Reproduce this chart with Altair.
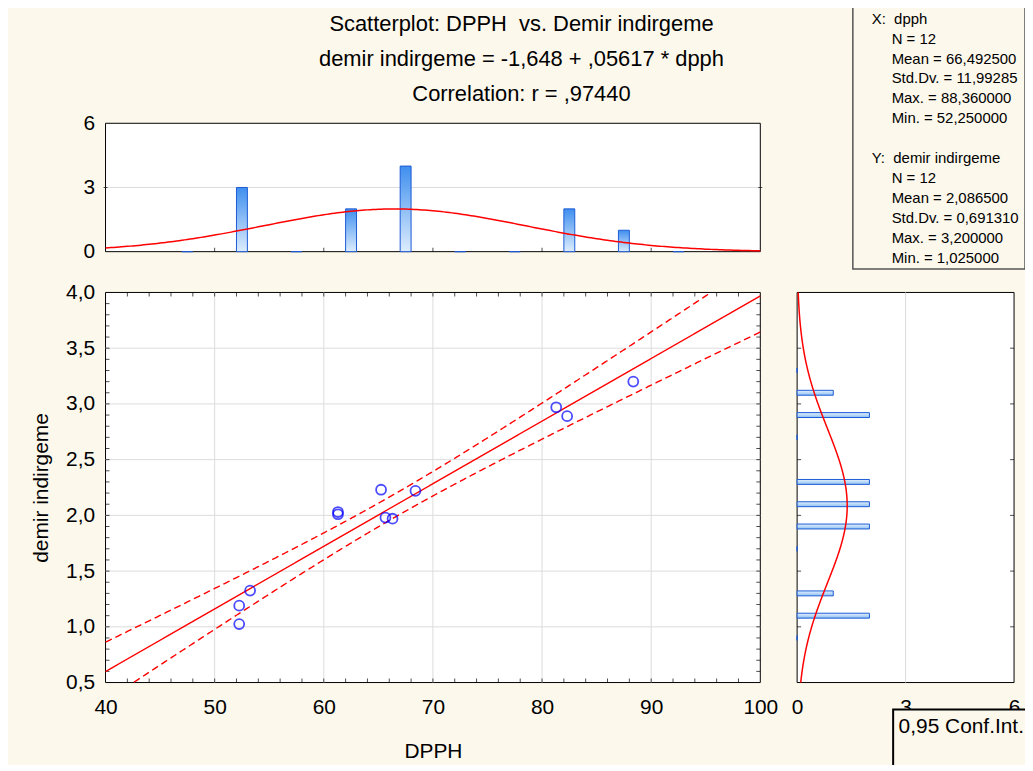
import numpy as np
import pandas as pd
import altair as alt

# ---------------- data ----------------
dpph = [52.25, 52.25, 53.25, 61.3, 61.3, 65.25, 65.65, 66.3, 68.4, 81.3, 82.3, 88.36]
demir = [1.025, 1.19, 1.325, 2.03, 2.01, 2.23, 1.98, 1.97, 2.22, 2.97, 2.89, 3.2]

x_bin_centers = [47.5, 52.5, 57.5, 62.5, 67.5, 72.5, 77.5, 82.5, 87.5, 92.5]
x_bin_counts = [0, 3, 0, 2, 4, 0, 0, 2, 1, 0]
y_bin_centers = [0.9, 1.1, 1.3, 1.7, 1.9, 2.1, 2.3, 2.7, 2.9, 3.1, 3.3]
y_bin_counts = [0, 2, 1, 0, 2, 2, 2, 0, 2, 1, 0]

intercept = -1.648
slope = 0.05617
r_corr = 0.97440
n_obs = 12
x_mean, x_sd = 66.4925, 11.99285
y_mean, y_sd = 2.0865, 0.691310
t_crit = 2.228
x_bin_width, y_bin_width = 5.0, 0.2

x_ticks = [40, 50, 60, 70, 80, 90, 100]
y_ticks = [0.5, 1.0, 1.5, 2.0, 2.5, 3.0, 3.5, 4.0]
count_ticks = [0, 3, 6]

NB = "\u00a0"
title_lines = [
    "Scatterplot: DPPH" + NB + " vs. Demir indirgeme",
    "demir indirgeme = -1,648 + ,05617 * dpph",
    "Correlation: r = ,97440",
]
stats_lines = [
    "X:" + NB + " dpph", "N = 12", "Mean = 66,492500", "Std.Dv. = 11,99285",
    "Max. = 88,360000", "Min. = 52,250000", "",
    "Y:" + NB + " demir indirgeme", "N = 12", "Mean = 2,086500", "Std.Dv. = 0,691310",
    "Max. = 3,200000", "Min. = 1,025000",
]
stats_header = [True, False, False, False, False, False, False,
                True, False, False, False, False, False]
conf_label = "0,95 Conf.Int."

# ---------------- styling / layout ----------------
FONT = "Liberation Sans"
BG = "#FDF8EC"
GRID = "#DCDCDC"
BLUE_EDGE = "#1C5BD6"


def sc(domain, rng):
    return alt.Scale(domain=domain, range=rng, nice=False, zero=False)


def XM():
    return sc([40, 100], [0, 658])


def YM():
    return sc([0.5, 4.0], [562, 170])


def YT():
    return sc([0, 6], [129, 0])


def XR():
    return sc([0, 6], [695, 913])


lab = dict(labelFont=FONT, labelFontSize=21, labelColor="black", ticks=False,
           tickSize=0, domain=False, grid=False, labelFlush=False,
           labelOverlap=False)
ax_main_x = alt.Axis(orient="bottom", values=x_ticks, format="d", labelPadding=14,
                     title="DPPH", titleFont=FONT, titleFontSize=21,
                     titleFontWeight="normal", titleColor="black",
                     titlePadding=23, **lab)
ax_main_y = alt.Axis(orient="left", values=y_ticks,
                     labelExpr="replace(format(datum.value, '.1f'), '.', ',')",
                     labelPadding=11, title="demir indirgeme", titleFont=FONT,
                     titleFontSize=21, titleFontWeight="normal",
                     titleColor="black", titlePadding=14, **lab)
ax_top_y = alt.Axis(orient="left", values=count_ticks, format="d",
                    labelPadding=11, title=None, **lab)
ax_right_x = alt.Axis(orient="bottom", values=count_ticks, format="d",
                      labelPadding=14, title=None, **lab)


def frame(x0, x1, y0, y1, xs, ys, xaxis=None, yaxis=None):
    df = pd.DataFrame({"x0": [x0], "x1": [x1], "y0": [y0], "y1": [y1]})
    return alt.Chart(df).mark_rect(fill="white", stroke="black", strokeWidth=1).encode(
        x=alt.X("x0:Q", scale=xs, axis=xaxis), x2="x1:Q",
        y=alt.Y("y0:Q", scale=ys, axis=yaxis), y2="y1:Q")


def vrules(vals, y0, y1, xs, ys):
    df = pd.DataFrame({"x": vals, "y0": y0, "y1": y1})
    return alt.Chart(df).mark_rule(color=GRID, strokeWidth=1).encode(
        x=alt.X("x:Q", scale=xs, axis=None),
        y=alt.Y("y0:Q", scale=ys, axis=None), y2="y1:Q")


def hrules(vals, x0, x1, xs, ys):
    df = pd.DataFrame({"y": vals, "x0": x0, "x1": x1})
    return alt.Chart(df).mark_rule(color=GRID, strokeWidth=1).encode(
        y=alt.Y("y:Q", scale=ys, axis=None),
        x=alt.X("x0:Q", scale=xs, axis=None), x2="x1:Q")


def ticks(xv, yv, xs, ys, orient, xoff=0, yoff=0, size=4):
    df = pd.DataFrame({"x": xv, "y": yv})
    return alt.Chart(df).mark_tick(orient=orient, size=size, thickness=1,
                                   color="black", xOffset=xoff, yOffset=yoff).encode(
        x=alt.X("x:Q", scale=xs, axis=None),
        y=alt.Y("y:Q", scale=ys, axis=None))


layers = []

# frames (white plot areas) carrying the labelled axes
layers.append(frame(40, 100, 0.5, 4.0, XM(), YM(), ax_main_x, ax_main_y))
layers.append(frame(40, 100, 0, 6, XM(), YT(), None, ax_top_y))
layers.append(frame(0, 6, 0.5, 4.0, XR(), YM(), ax_right_x, None))

# grid lines
layers.append(vrules([50, 60, 70, 80, 90], 0.5, 4.0, XM(), YM()))
layers.append(hrules([1.0, 1.5, 2.0, 2.5, 3.0, 3.5], 40, 100, XM(), YM()))
layers.append(hrules([3], 40, 100, XM(), YT()))
layers.append(vrules([3], 0.5, 4.0, XR(), YM()))

# small inward ticks
minor_x = list(range(42, 100, 2))
minor_y = [round(v, 1) for v in np.arange(0.6, 4.0, 0.1)]
layers.append(ticks(minor_x, [0.5] * len(minor_x), XM(), YM(), "vertical", yoff=-2))
layers.append(ticks(minor_x, [4.0] * len(minor_x), XM(), YM(), "vertical", yoff=2))
layers.append(ticks([40] * len(minor_y), minor_y, XM(), YM(), "horizontal", xoff=2))
layers.append(ticks([100] * len(minor_y), minor_y, XM(), YM(), "horizontal", xoff=-2))
layers.append(ticks([50, 60, 70, 80, 90], [0] * 5, XM(), YT(), "vertical", yoff=-2))
layers.append(ticks([40, 100], [3, 3], XM(), YT(), "horizontal", xoff=0))
maj_y = [1.0, 1.5, 2.0, 2.5, 3.0, 3.5]
layers.append(ticks([0] * 6, maj_y, XR(), YM(), "horizontal", xoff=2))
layers.append(ticks([6] * 6, maj_y, XR(), YM(), "horizontal", xoff=-2))

# top histogram
grad_top = alt.LinearGradient(
    gradient="linear",
    stops=[alt.GradientStop(color="#DDEDFD", offset=0),
           alt.GradientStop(color="#3F8FEF", offset=1)],
    x1=0, x2=0, y1=1, y2=0)
top_df = pd.DataFrame({"c": x_bin_centers, "n": x_bin_counts})
top_df["x0"] = top_df["c"] - 0.5
top_df["x1"] = top_df["c"] + 0.5
top_df["y0"] = 0
layers.append(alt.Chart(top_df).mark_rect(fill=grad_top, stroke=BLUE_EDGE, strokeWidth=1).encode(
    x=alt.X("x0:Q", scale=XM(), axis=None), x2="x1:Q",
    y=alt.Y("y0:Q", scale=YT(), axis=None), y2="n:Q"))

# right histogram
grad_right = alt.LinearGradient(
    gradient="linear",
    stops=[alt.GradientStop(color="#E4F0FD", offset=0),
           alt.GradientStop(color="#8DC0F2", offset=1)],
    x1=0, x2=0, y1=0, y2=1)
right_df = pd.DataFrame({"c": y_bin_centers, "n": y_bin_counts})
right_df["y0"] = right_df["c"] - 0.022
right_df["y1"] = right_df["c"] + 0.022
right_df["x0"] = 0
layers.append(alt.Chart(right_df).mark_rect(fill=grad_right, stroke=BLUE_EDGE, strokeWidth=1).encode(
    x=alt.X("x0:Q", scale=XR(), axis=None), x2="n:Q",
    y=alt.Y("y0:Q", scale=YM(), axis=None), y2="y1:Q"))

# normal curves
def npdf(v, m, s):
    return np.exp(-0.5 * ((v - m) / s) ** 2) / (s * np.sqrt(2 * np.pi))

gx = np.linspace(40, 100, 241)
ncx = pd.DataFrame({"x": gx, "y": n_obs * x_bin_width * npdf(gx, x_mean, x_sd)})
layers.append(alt.Chart(ncx).mark_line(color="red", strokeWidth=1.5).encode(
    x=alt.X("x:Q", scale=XM(), axis=None), y=alt.Y("y:Q", scale=YT(), axis=None)))

gy = np.linspace(0.5, 4.0, 281)
ncy = pd.DataFrame({"y": gy, "x": n_obs * y_bin_width * npdf(gy, y_mean, y_sd)})
layers.append(alt.Chart(ncy).mark_line(color="red", strokeWidth=1.5).encode(
    x=alt.X("x:Q", scale=XR(), axis=None), y=alt.Y("y:Q", scale=YM(), axis=None),
    order="y:Q"))

# regression line with 95% confidence band
s_res = y_sd * np.sqrt(1 - r_corr ** 2) * np.sqrt((n_obs - 1) / (n_obs - 2))
sxx = (n_obs - 1) * x_sd ** 2
rx = np.linspace(40, 100, 601)
fit = intercept + slope * rx
half = t_crit * s_res * np.sqrt(1 / n_obs + (rx - x_mean) ** 2 / sxx)
fit_df = pd.DataFrame({"x": rx, "y": fit})
fit_df = fit_df[(fit_df.y >= 0.5) & (fit_df.y <= 4.0)]
ci_df = pd.concat([
    pd.DataFrame({"x": rx, "y": fit + half, "s": "upper"}),
    pd.DataFrame({"x": rx, "y": fit - half, "s": "lower"}),
])
ci_df = ci_df[(ci_df.y >= 0.5) & (ci_df.y <= 4.0)]
layers.append(alt.Chart(ci_df).mark_line(color="red", strokeWidth=1.4, strokeDash=[7, 4]).encode(
    x=alt.X("x:Q", scale=XM(), axis=None), y=alt.Y("y:Q", scale=YM(), axis=None),
    detail="s:N"))
layers.append(alt.Chart(fit_df).mark_line(color="red", strokeWidth=1.4).encode(
    x=alt.X("x:Q", scale=XM(), axis=None), y=alt.Y("y:Q", scale=YM(), axis=None)))

# scatter points
pts = pd.DataFrame({"dpph": dpph, "demir": demir})
layers.append(alt.Chart(pts).mark_point(shape="circle", filled=False, color="#0000FF",
                                        size=100, strokeWidth=1.8).encode(
    x=alt.X("dpph:Q", scale=XM(), axis=None), y=alt.Y("demir:Q", scale=YM(), axis=None)))

# title lines
tdf = pd.DataFrame({"t": title_lines, "row": [0, 1, 2]})
layers.append(alt.Chart(tdf).mark_text(font=FONT, fontSize=22, color="black",
                                       align="center", baseline="middle").encode(
    x=alt.value(418), y=alt.Y("row:Q", scale=sc([0, 2], [-100, -29]), axis=None),
    text="t:N"))

# statistics box
one = pd.DataFrame({"a": [0]})
layers.append(alt.Chart(one).mark_rect(fill=BG, stroke="#555555", strokeWidth=1.5).encode(
    x=alt.value(751), x2=alt.value(924), y=alt.value(-124), y2=alt.value(146.5)))
sdf = pd.DataFrame({"t": stats_lines, "row": list(range(len(stats_lines))), "h": stats_header})
ys_stats = sc([0, 12], [-105, 135])
layers.append(alt.Chart(sdf).transform_filter("datum.h").mark_text(
    font=FONT, fontSize=15, color="black", align="left", baseline="middle").encode(
    x=alt.value(770), y=alt.Y("row:Q", scale=ys_stats, axis=None), text="t:N"))
layers.append(alt.Chart(sdf).transform_filter("!datum.h").mark_text(
    font=FONT, fontSize=15, color="black", align="left", baseline="middle").encode(
    x=alt.value(790), y=alt.Y("row:Q", scale=ys_stats, axis=None), text="t:N"))

# confidence-interval legend box
layers.append(alt.Chart(one).mark_rect(fill=BG, stroke="black", strokeWidth=2).encode(
    x=alt.value(791.5), x2=alt.value(960), y=alt.value(589), y2=alt.value(648)))
cdf = pd.DataFrame({"t": [conf_label]})
layers.append(alt.Chart(cdf).mark_text(font=FONT, fontSize=21, color="black",
                                       align="left", baseline="middle").encode(
    x=alt.value(797), y=alt.value(607), text="t:N"))

chart = alt.layer(*layers).resolve_scale(x="independent", y="independent").properties(
    width=913, height=562,
    padding={"left": 98, "top": 114, "right": 11, "bottom": 81},
    autosize=alt.AutoSizeParams(type="none"),
    background=BG,
).configure_view(stroke="transparent")

chart.save("out.html", embed_options={"renderer": "svg", "actions": False})
